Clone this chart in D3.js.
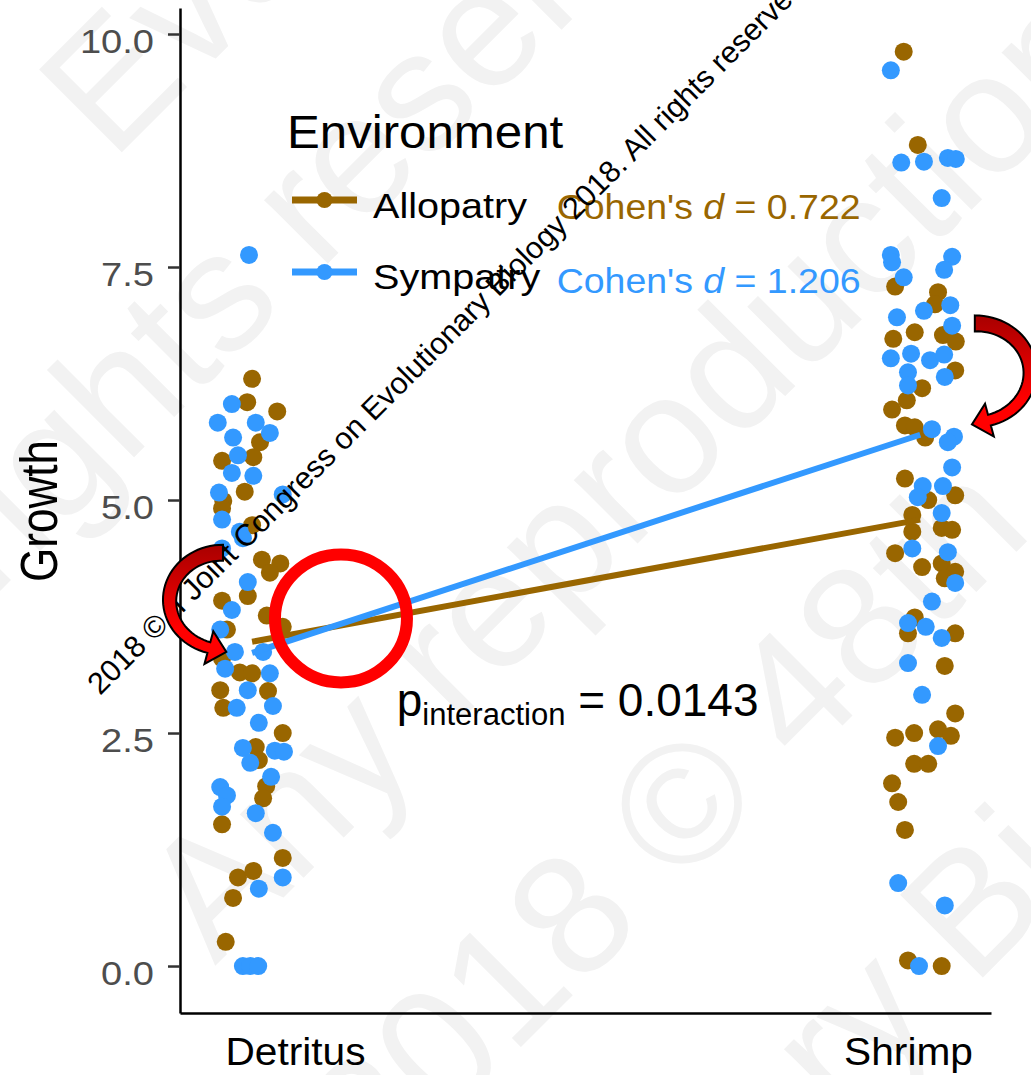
<!DOCTYPE html>
<html>
<head>
<meta charset="utf-8">
<script src="https://cdn.jsdelivr.net/npm/d3@7"></script>
<style>
body { margin: 0; background: #fff; }
svg { display: block; font-family: "Liberation Sans", Arial, sans-serif; }
</style>
</head>
<body>
<svg id="chart" width="1031" height="1075"></svg>
<script>
// categories, ticks, legend
var categories = ["Detritus", "Shrimp"];
var yTicks = [0, 2.5, 5, 7.5, 10];
var envs = ["Allopatry", "Sympatry"];
var envColors = ["#996600", "#3399FF"];
var cohenD = ["0.722", "1.206"];
var pInteraction = "0.0143";

// group means, [Detritus, Shrimp]
var meanJitter = [-0.070, 0.020];
var alloMeans = [3.48, 4.79];
var sympMeans = [3.36, 5.70];

// jittered observations: [jitter, growth]
var alloDetritus = [[-0.070,6.30],[-0.078,6.05],[-0.029,5.95],[-0.057,5.62],[-0.068,5.46],[-0.119,5.42],[-0.082,5.09],[-0.117,4.99],[-0.119,4.91],[-0.070,4.73],[-0.054,4.36],[-0.024,4.32],[-0.041,4.22],[-0.077,3.97],[-0.119,3.92],[-0.046,3.76],[-0.020,3.64],[-0.111,3.61],[-0.119,3.30],[-0.090,3.15],[-0.070,3.14],[-0.122,2.96],[-0.044,2.95],[-0.117,2.77],[-0.020,2.50],[-0.064,2.35],[-0.059,2.21],[-0.047,1.93],[-0.052,1.80],[-0.119,1.52],[-0.020,1.16],[-0.093,0.95],[-0.068,1.02],[-0.101,0.73],[-0.113,0.26]];
var sympDetritus = [[-0.075,7.63],[-0.103,6.03],[-0.126,5.83],[-0.064,5.83],[-0.041,5.72],[-0.101,5.67],[-0.093,5.48],[-0.103,5.29],[-0.068,5.26],[-0.124,5.08],[-0.020,5.06],[-0.119,4.79],[-0.090,4.66],[-0.085,4.59],[-0.119,4.48],[-0.077,4.12],[-0.103,3.82],[-0.122,3.61],[-0.098,3.37],[-0.052,3.37],[-0.114,3.19],[-0.041,3.14],[-0.077,2.96],[-0.095,2.77],[-0.036,2.79],[-0.059,2.61],[-0.085,2.34],[-0.033,2.31],[-0.018,2.30],[-0.073,2.18],[-0.039,2.03],[-0.122,1.92],[-0.111,1.83],[-0.119,1.71],[-0.064,1.64],[-0.036,1.43],[-0.020,0.95],[-0.059,0.83],[-0.085,0.00],[-0.073,0.00],[-0.060,0.00]];
var alloShrimp = [[-0.007,9.81],[0.016,8.81],[-0.021,7.29],[0.049,7.23],[0.044,7.10],[0.011,6.80],[0.057,6.77],[-0.024,6.73],[0.078,6.70],[0.077,6.39],[0.023,6.20],[-0.002,6.07],[-0.026,5.97],[-0.005,5.80],[0.011,5.78],[0.028,5.67],[-0.005,5.23],[0.077,5.05],[0.033,5.00],[0.007,4.84],[0.007,4.66],[0.055,4.70],[0.072,4.68],[-0.021,4.43],[0.023,4.28],[0.055,4.32],[0.077,4.23],[0.060,4.16],[0.011,3.74],[0.000,3.57],[0.077,3.57],[0.060,3.22],[0.077,2.71],[-0.021,2.45],[0.010,2.50],[0.049,2.54],[0.070,2.47],[0.010,2.17],[0.033,2.17],[-0.026,1.96],[-0.016,1.76],[-0.005,1.46],[0.000,0.06],[0.055,0.00]];
var sympShrimp = [[-0.028,9.61],[-0.011,8.62],[0.026,8.63],[0.065,8.67],[0.078,8.66],[0.055,8.24],[-0.028,7.63],[-0.026,7.55],[0.072,7.61],[-0.007,7.39],[0.059,7.47],[0.069,7.09],[-0.018,6.96],[0.026,7.03],[0.072,6.87],[-0.028,6.52],[0.005,6.57],[0.036,6.50],[0.059,6.56],[0.000,6.37],[0.000,6.23],[0.060,6.32],[0.039,5.76],[0.075,5.68],[0.065,5.62],[0.072,5.35],[0.024,5.15],[0.057,5.15],[0.016,5.03],[0.055,4.86],[0.007,4.48],[0.065,4.44],[0.077,4.11],[0.039,3.91],[0.000,3.68],[0.029,3.64],[0.055,3.52],[0.000,3.25],[0.023,2.91],[0.049,2.36],[-0.016,0.89],[0.060,0.65],[0.018,0.00]];

// annotation anchors in data units [x, growth]
var cohenPos = [[0.427, 8.01], [0.427, 7.22]];
var pPos = [0.166, 2.68];
var circlePos = [0.075, 3.73];
var arrowPos = [[-0.1175, 3.93, -1], [1.109, 6.38, 1]];

var svg = d3.select("#chart");

// scales (domain padded so the axis lines run like ggplot's panel)
var x = d3.scaleLinear().domain([-0.1876, 1.1354]).range([180, 991]);
var y = d3.scaleLinear().domain([-0.504, 10.279]).range([1013, 8]);

// faint background watermark
var wm = svg.append("g").attr("fill", "#f2f2f2").attr("font-size", 170);
[["Evolutionary Biology", 70, 120], ["All rights reserved.", -217, 724], ["Any reproduction", 173, 924],
 ["2018 \u00a9 48th", 336, 1148], ["Evolutionary Biology", 236, 1640]].forEach(function(w) {
  wm.append("text").attr("transform", "translate(" + w[1] + "," + w[2] + ") rotate(-45)")
    .attr("dy", "0.35em").text(w[0]);
});

function stretched(g, px, py, str, size, sx) {
  return g.append("text")
    .attr("transform", "translate(" + px + "," + py + ") scale(" + sx + ",1)")
    .attr("font-size", size).text(str);
}

// y axis
var yAx = svg.append("g").attr("transform", "translate(180,0)")
  .call(d3.axisLeft(y).tickValues(yTicks).tickFormat(d3.format(".1f")).tickSizeInner(12).tickSizeOuter(0));
yAx.select(".domain").attr("stroke", "#000").attr("stroke-width", 2.5);
yAx.selectAll(".tick line").attr("stroke", "#333").attr("stroke-width", 2.5);
yAx.selectAll(".tick text")
  .attr("x", -26 / 1.12).attr("dy", 18).attr("transform", "scale(1.12,1)")
  .attr("font-size", 34).attr("font-family", "Liberation Sans, Arial, sans-serif").attr("fill", "#4d4d4d");

// x axis
var xAx = svg.append("g").attr("transform", "translate(0,1013)")
  .call(d3.axisBottom(x).tickValues([0, 1]).tickFormat(function(i) { return categories[i]; }).tickSize(0));
xAx.select(".domain").attr("stroke", "#000").attr("stroke-width", 2.5);
xAx.selectAll(".tick text")
  .attr("y", 52).attr("dy", 0).attr("transform", "scale(1.07,1)")
  .attr("font-size", 38).attr("font-family", "Liberation Sans, Arial, sans-serif").attr("fill", "#000");

// y title
svg.append("text")
  .attr("transform", "translate(57,511) scale(1.19,1) rotate(-90)")
  .attr("text-anchor", "middle").attr("font-size", 44).text("Growth");

// points
var pts = svg.append("g");
[[alloDetritus, 0, 0], [sympDetritus, 0, 1], [alloShrimp, 1, 0], [sympShrimp, 1, 1]].forEach(function(s) {
  pts.selectAll(null).data(s[0]).enter().append("circle")
    .attr("cx", function(d) { return x(s[1] + d[0]); })
    .attr("cy", function(d) { return y(d[1]); })
    .attr("r", 9)
    .attr("fill", envColors[s[2]]);
});

// mean lines
var line = d3.line().x(function(d) { return x(d[0]); }).y(function(d) { return y(d[1]); });
[alloMeans, sympMeans].forEach(function(m, i) {
  svg.append("path")
    .attr("d", line([[0 + meanJitter[0], m[0]], [1 + meanJitter[1], m[1]]]))
    .attr("fill", "none").attr("stroke", envColors[i]).attr("stroke-width", 6);
});

// legend
var lg = svg.append("g");
stretched(lg, 287, 148, "Environment", 46, 1.07);
var keyY = [200, 272], labY = [218, 289];
envs.forEach(function(e, i) {
  lg.append("line").attr("x1", 292).attr("x2", 357).attr("y1", keyY[i]).attr("y2", keyY[i])
    .attr("stroke", envColors[i]).attr("stroke-width", 7);
  lg.append("circle").attr("cx", 324.5).attr("cy", keyY[i]).attr("r", 8).attr("fill", envColors[i]);
  stretched(lg, 373, labY[i], e, 36, 1.1);
});

// Cohen's d labels
cohenD.forEach(function(v, i) {
  var t = svg.append("text")
    .attr("transform", "translate(" + x(cohenPos[i][0]) + "," + y(cohenPos[i][1]) + ") scale(1.07,1)")
    .attr("font-size", 35).attr("fill", envColors[i]);
  t.append("tspan").text("Cohen's ");
  t.append("tspan").attr("font-style", "italic").text("d");
  t.append("tspan").text(" = " + v);
});

// p interaction
var pt = svg.append("text").attr("x", x(pPos[0])).attr("y", y(pPos[1])).attr("font-size", 46);
pt.append("tspan").text("p");
pt.append("tspan").attr("font-size", 31).attr("dy", 9).text("interaction");
pt.append("tspan").attr("dy", -9).text(" = " + pInteraction);

// small rotated copyright note
svg.append("text")
  .attr("transform", "translate(100,696) rotate(-45)")
  .attr("font-size", 30.5).attr("fill", "#000")
  .text("2018 \u00a9 II Joint Congress on Evolutionary Biology 2018. All rights reserved.");

// red circle
svg.append("ellipse")
  .attr("cx", x(circlePos[0])).attr("cy", y(circlePos[1]))
  .attr("rx", 66).attr("ry", 64)
  .attr("fill", "none").attr("stroke", "#ff0000").attr("stroke-width", 12);

// curved arrows
var grad = svg.append("defs").append("linearGradient").attr("id", "arrowGrad")
  .attr("x1", 0).attr("y1", 0).attr("x2", 0).attr("y2", 1);
grad.append("stop").attr("offset", 0).attr("stop-color", "#a80000");
grad.append("stop").attr("offset", 0.35).attr("stop-color", "#d40000");
grad.append("stop").attr("offset", 0.7).attr("stop-color", "#ff0000");

function curvedArrow(cx, cy, rx, ry, side) {
  var t0 = -Math.PI / 2, t1 = 75 * Math.PI / 180, n = 40;
  var w0 = 16, w1 = 11, hw = 17, len = 18;
  var outer = [], inner = [];
  for (var i = 0; i <= n; i++) {
    var t = t0 + (t1 - t0) * i / n, w = w0 + (w1 - w0) * i / n;
    outer.push([cx + side * rx * Math.cos(t), cy + ry * Math.sin(t)]);
    inner.push([cx + side * (rx - w) * Math.cos(t), cy + (ry - w) * Math.sin(t)]);
  }
  var o = outer[n], q = inner[n];
  var m = [(o[0] + q[0]) / 2, (o[1] + q[1]) / 2];
  var nx = o[0] - q[0], ny = o[1] - q[1], nl = Math.hypot(nx, ny);
  nx /= nl; ny /= nl;
  var tx = side * (-rx * Math.sin(t1)), ty = ry * Math.cos(t1), tl = Math.hypot(tx, ty);
  tx /= tl; ty /= tl;
  var head = [[m[0] + nx * hw, m[1] + ny * hw], [m[0] + tx * len, m[1] + ty * len], [m[0] - nx * hw, m[1] - ny * hw]];
  return d3.line()(outer.concat(head, inner.reverse())) + "Z";
}

arrowPos.forEach(function(a) {
  var rx = a[2] < 0 ? 60 : 62, ry = a[2] < 0 ? 55 : 56;
  svg.append("path")
    .attr("d", curvedArrow(x(a[0]), y(a[1]), rx, ry, a[2]))
    .attr("fill", "url(#arrowGrad)").attr("stroke", "#000").attr("stroke-width", 2);
});
</script>
</body>
</html>
